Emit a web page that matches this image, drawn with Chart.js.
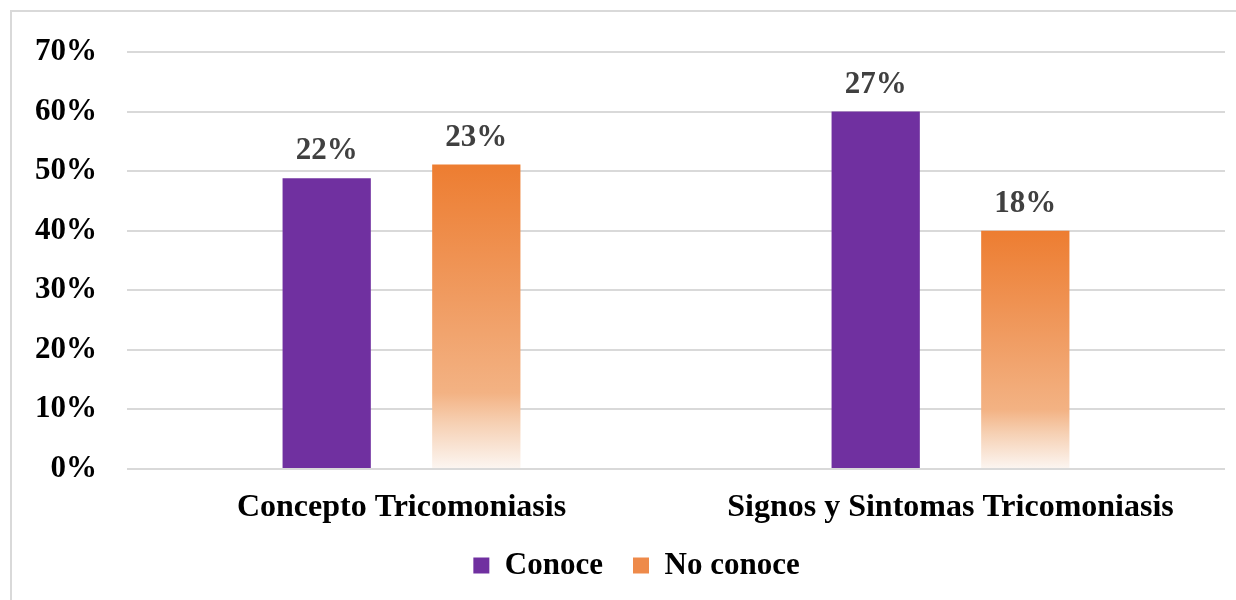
<!DOCTYPE html>
<html>
<head>
<meta charset="utf-8">
<script src="https://cdn.jsdelivr.net/npm/chart.js@4"></script>
<style>
html,body{margin:0;padding:0;background:#fff;}
#wrap{position:absolute;left:0;top:0;width:1236px;height:600px;}
</style>
</head>
<body>
<div id="wrap"><canvas id="c" width="1236" height="600"></canvas></div>
<script>
const categories = ["Concepto Tricomoniasis", "Signos y Sintomas Tricomoniasis"];
const seriesNames = ["Conoce", "No conoce"];
const conoceValues = [48.8, 60.0];
const noConoceValues = [51.1, 40.0];
const conoceLabels = ["22%", "27%"];
const noConoceLabels = ["23%", "18%"];
const yTicks = [0, 10, 20, 30, 40, 50, 60, 70];

const FONT = "'Liberation Serif', 'Times New Roman', serif";

function orangeGradient(ctx) {
  const chart = ctx.chart;
  const y = chart.scales && chart.scales.y;
  if (!chart.chartArea || !y || ctx.dataIndex === undefined || ctx.type !== 'data') return '#EE8A4A';
  const v = ctx.dataset.data[ctx.dataIndex];
  const top = y.getPixelForValue(v);
  const bottom = y.getPixelForValue(0);
  const g = chart.ctx.createLinearGradient(0, top, 0, bottom);
  g.addColorStop(0, '#ED7D31');
  g.addColorStop(0.45, '#F09C62');
  g.addColorStop(0.75, '#F3B283');
  g.addColorStop(0.85, '#F6D0B3');
  g.addColorStop(1, '#FCF6F2');
  return g;
}

const frame = {
  id: 'frame',
  beforeDraw(chart) {
    const c = chart.ctx;
    c.save();
    c.fillStyle = '#fff';
    c.fillRect(0, 0, chart.width, chart.height);
    c.strokeStyle = '#D9D9D9';
    c.lineWidth = 2;
    c.beginPath();
    c.moveTo(11, chart.height + 5);
    c.lineTo(11, 11);
    c.lineTo(chart.width + 5, 11);
    c.stroke();
    c.restore();
  }
};

const layoutTweaks = {
  id: 'layoutTweaks',
  afterLayout(chart) {
    if (chart.legend) {
      chart.legend.left += 24;
      chart.legend.right += 24;
      if (chart.legend.adjustHitBoxes) chart.legend.adjustHitBoxes();
    }
    if (chart.scales.x) chart.scales.x.bottom = chart.height;
  }
};

const barLabels = {
  id: 'barLabels',
  afterDatasetsDraw(chart) {
    const c = chart.ctx;
    const labelSets = [conoceLabels, noConoceLabels];
    c.save();
    c.font = "bold 31px " + FONT;
    c.fillStyle = '#404040';
    c.textAlign = 'center';
    c.textBaseline = 'alphabetic';
    chart.data.datasets.forEach((ds, di) => {
      const meta = chart.getDatasetMeta(di);
      meta.data.forEach((el, i) => {
        c.fillText(labelSets[di][i], el.x, el.y - 19);
      });
    });
    c.restore();
  }
};

new Chart(document.getElementById('c'), {
  type: 'bar',
  data: {
    labels: categories,
    datasets: [
      { label: seriesNames[0], data: conoceValues, backgroundColor: '#7030A0', borderWidth: 0,
        categoryPercentage: 0.545, barPercentage: 0.59 },
      { label: seriesNames[1], data: noConoceValues, backgroundColor: orangeGradient, borderWidth: 0,
        categoryPercentage: 0.545, barPercentage: 0.59 }
    ]
  },
  options: {
    responsive: false,
    animation: false,
    devicePixelRatio: 1,
    layout: { padding: { left: 0, right: 11, top: 52, bottom: 9 } },
    plugins: {
      tooltip: { enabled: false },
      legend: {
        position: 'bottom',
        labels: {
          font: { family: FONT, size: 31, weight: 'bold' },
          color: '#000',
          boxWidth: 16,
          boxHeight: 16,
          padding: 30,
          generateLabels(chart) {
            return chart.data.datasets.map((ds, i) => ({
              text: ds.label,
              fillStyle: i === 0 ? '#7030A0' : '#EE8A4A',
              strokeStyle: 'rgba(0,0,0,0)',
              lineWidth: 0,
              hidden: false,
              datasetIndex: i,
              fontColor: '#000'
            }));
          }
        }
      }
    },
    scales: {
      x: {
        grid: { display: false, drawTicks: false },
        border: { display: false },
        ticks: { font: { family: FONT, size: 32, weight: 'bold' }, color: '#000', padding: 20, maxRotation: 0 },
        afterFit(s) { s.height = 51; }
      },
      y: {
        min: 0, max: 70,
        afterBuildTicks(s) { s.ticks = yTicks.map(v => ({ value: v })); },
        grid: { color: '#D9D9D9', lineWidth: 2, drawTicks: false },
        border: { display: false },
        ticks: { font: { family: FONT, size: 31, weight: 'bold' }, color: '#000', padding: 30,
          callback: v => v + '%' },
        afterFit(s) { s.width = 127; }
      }
    }
  },
  plugins: [frame, layoutTweaks, barLabels]
});
</script>
</body>
</html>
